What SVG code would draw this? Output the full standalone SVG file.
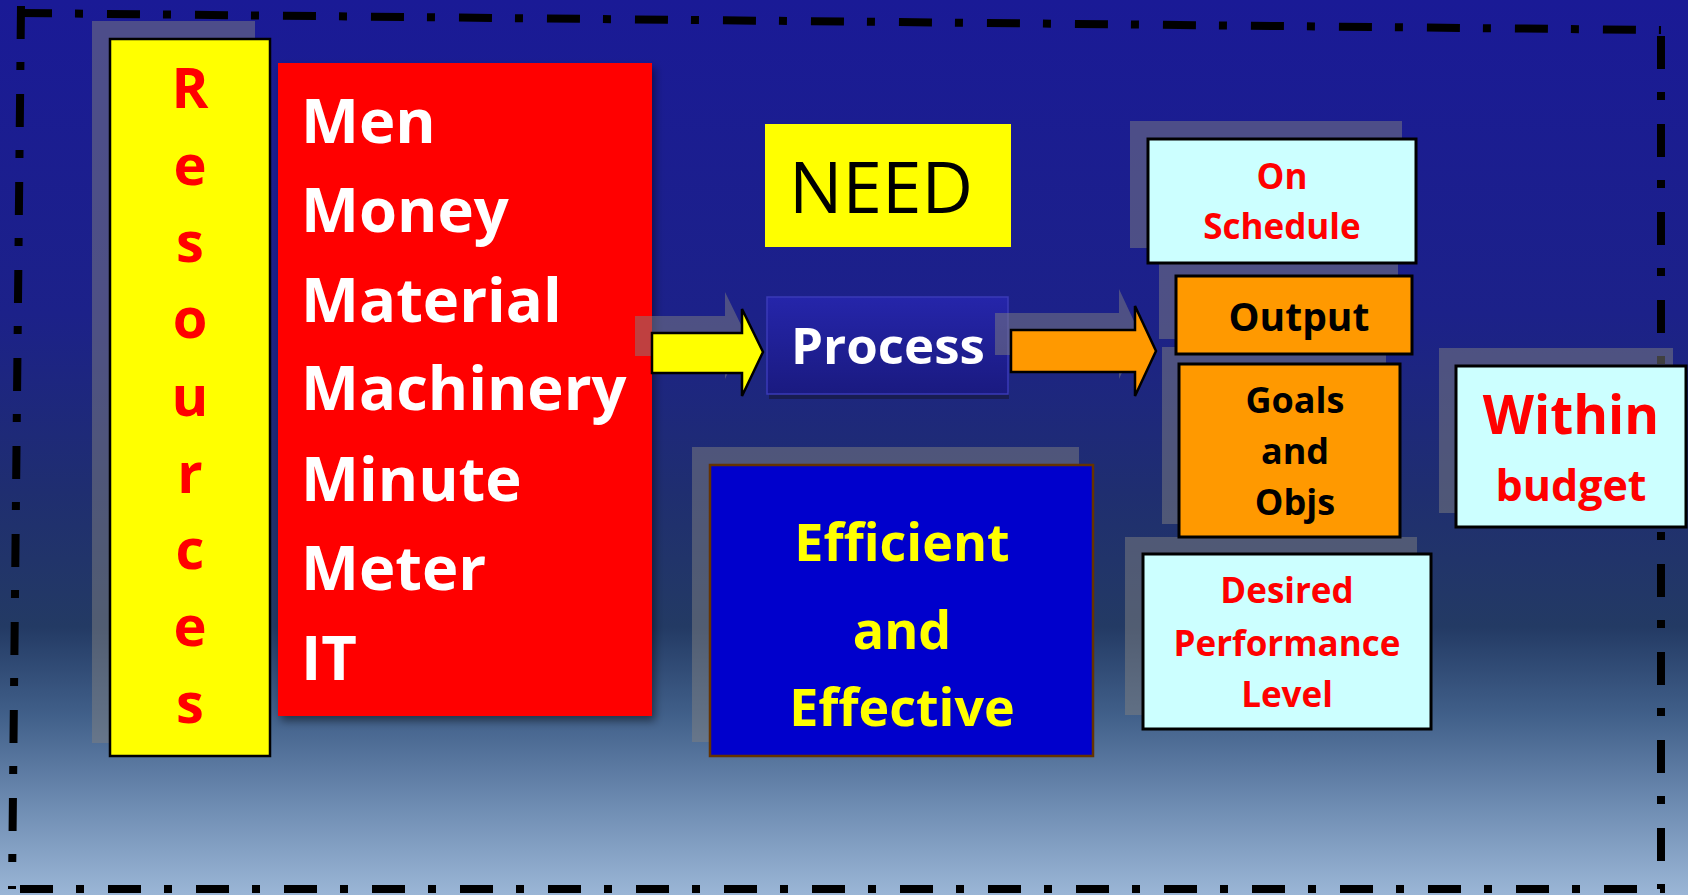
<svg xmlns="http://www.w3.org/2000/svg" width="1688" height="895" viewBox="0 0 1688 895">
<defs>
<linearGradient id="bg" x1="0" y1="0" x2="0" y2="1">
<stop offset="0" stop-color="#1a1a96"/>
<stop offset="0.35" stop-color="#1c2189"/>
<stop offset="0.55" stop-color="#1f2e70"/>
<stop offset="0.70" stop-color="#233a64"/>
<stop offset="0.80" stop-color="#41608a"/>
<stop offset="0.90" stop-color="#6e8cb2"/>
<stop offset="1" stop-color="#9bb6d6"/>
</linearGradient>
<linearGradient id="procFill" x1="0" y1="0" x2="0" y2="1">
<stop offset="0" stop-color="#2525aa"/>
<stop offset="1" stop-color="#1a1a80"/>
</linearGradient>
<filter id="soft" x="-10%" y="-10%" width="130%" height="130%">
<feDropShadow dx="3" dy="5" stdDeviation="4" flood-color="#000" flood-opacity="0.45"/>
</filter>
</defs>
<style>
.sh{fill:#808080;fill-opacity:0.5}
.t{font-family:"Open Sans","Liberation Sans",sans-serif;font-weight:bold}
.c{text-anchor:middle}
.border{stroke:#000;stroke-width:8;stroke-dasharray:33 23 8 24;fill:none}
.box{stroke:#000;stroke-width:3}
.cyan{fill:#ccffff}
.orange{fill:#ff9900}
.red{fill:#ff0000}
.blk{fill:#000}
.wht{fill:#fff}
.yel{fill:#ffff00}
</style>
<rect x="0" y="0" width="1688" height="895" fill="url(#bg)"/>
<g id="frame">
<line class="border" x1="19" y1="13" x2="1661" y2="30"/>
<line class="border" x1="1661" y1="36" x2="1661" y2="889"/>
<line class="border" x1="20" y1="889" x2="1665" y2="889"/>
<line class="border" x1="21" y1="6" x2="12" y2="889"/>
</g>
<g id="resources">
<rect class="sh" x="92" y="21" width="163" height="722"/>
<rect x="110" y="39" width="160" height="717" fill="#ffff00" stroke="#000" stroke-width="2.5"/>
<g class="t c red" font-size="56">
<text x="190" y="108">R</text>
<text x="190" y="185">e</text>
<text x="190" y="262">s</text>
<text x="190" y="338">o</text>
<text x="190" y="416">u</text>
<text x="190" y="493">r</text>
<text x="190" y="569">c</text>
<text x="190" y="646">e</text>
<text x="190" y="723">s</text>
</g>
</g>
<g id="list">
<rect x="278" y="63" width="374" height="653" fill="#ff0000" filter="url(#soft)"/>
<g class="t wht" font-size="61.5">
<text x="301" y="143">Men</text>
<text x="301" y="232">Money</text>
<text x="301" y="322">Material</text>
<text x="301" y="410">Machinery</text>
<text x="301" y="501">Minute</text>
<text x="301" y="590">Meter</text>
<text x="301" y="680">IT</text>
</g>
</g>
<g id="need">
<rect x="765" y="124" width="246" height="123" fill="#ffff00"/>
<text x="881" y="213" font-family="Open Sans, Liberation Sans, sans-serif" font-size="71" text-anchor="middle" fill="#000">NEED</text>
</g>
<g id="process">
<rect x="769" y="392" width="240" height="7" fill="#191d52"/>
<rect x="767" y="297" width="241" height="97" fill="url(#procFill)" stroke="#3a3ab8" stroke-width="1.5"/>
<text class="t c wht" x="888" y="364" font-size="51">Process</text>
</g>
<g id="efficiency">
<rect class="sh" x="692" y="447" width="387" height="295"/>
<rect x="710" y="465" width="383" height="291" fill="#0000cc" stroke="#663300" stroke-width="2.5"/>
<g class="t c yel" font-size="52">
<text x="902" y="561">Efficient</text>
<text x="902" y="649">and</text>
<text x="902" y="726">Effective</text>
</g>
</g>
<g id="desired">
<rect class="sh" x="1125" y="537" width="292" height="178"/>
<rect class="box cyan" x="1143" y="554" width="288" height="175"/>
<g class="t c red" font-size="35">
<text x="1287" y="603">Desired</text>
<text x="1287" y="656">Performance</text>
<text x="1287" y="707">Level</text>
</g>
</g>
<g id="goals">
<rect class="sh" x="1162" y="347" width="224" height="177"/>
<rect class="box orange" x="1179" y="364" width="221" height="173"/>
<g class="t c blk" font-size="36">
<text x="1295" y="413">Goals</text>
<text x="1295" y="464">and</text>
<text x="1295" y="515">Objs</text>
</g>
</g>
<g id="output">
<rect class="sh" x="1159" y="263" width="239" height="76"/>
<rect class="box orange" x="1176" y="276" width="236" height="78"/>
<text class="t c blk" x="1299" y="331" font-size="39">Output</text>
</g>
<g id="schedule">
<rect class="sh" x="1130" y="121" width="272" height="127"/>
<rect class="box cyan" x="1148" y="139" width="268" height="124"/>
<g class="t c red" font-size="35">
<text x="1282" y="189">On</text>
<text x="1282" y="239">Schedule</text>
</g>
</g>
<g id="budget">
<rect class="sh" x="1439" y="348" width="234" height="165"/>
<rect class="box cyan" x="1456" y="366" width="230" height="161"/>
<text class="t c red" x="1571" y="434" font-size="53">Within</text>
<text class="t c red" x="1571" y="501" font-size="43">budget</text>
</g>
<g id="connectors">
<polygon class="sh" points="635,316 725,316 725,292 746,335 725,379 725,356 635,356"/>
<polygon points="652,333 742,333 742,309 763,352 742,396 742,373 652,373" fill="#ffff00" stroke="#000" stroke-width="2.5" stroke-linejoin="miter"/>
<polygon class="sh" points="995,313 1119,313 1119,289 1140,334 1119,379 1119,355 995,355"/>
<polygon points="1011,330 1135,330 1135,306 1156,351 1135,396 1135,372 1011,372" fill="#ff9900" stroke="#000" stroke-width="2.5" stroke-linejoin="miter"/>
</g>
</svg>
